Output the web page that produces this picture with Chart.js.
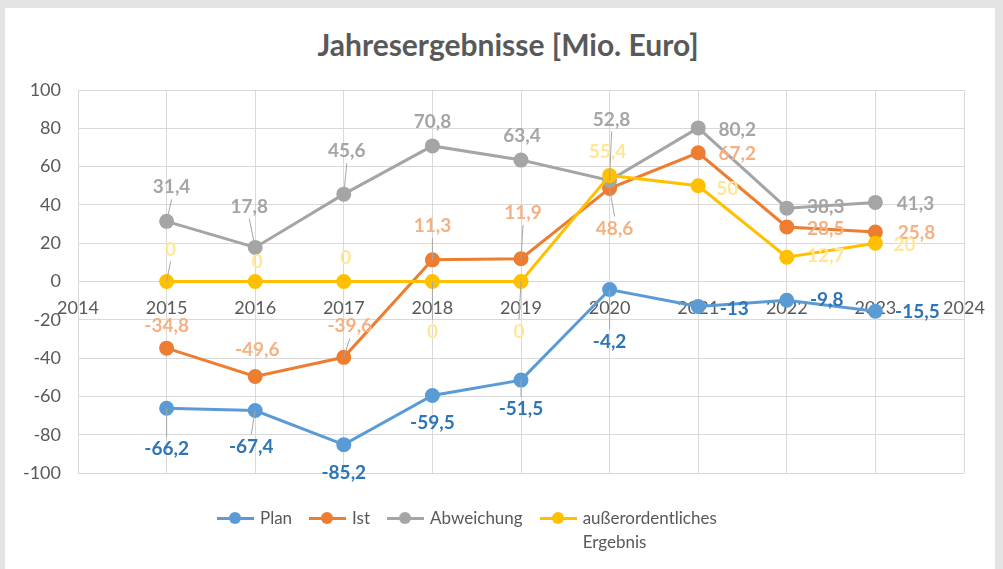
<!DOCTYPE html>
<html>
<head>
<meta charset="utf-8">
<script src="https://cdn.jsdelivr.net/npm/chart.js@4"></script>
<style>
  body { margin: 0; background: #e4e4e4; }
  #card { position: absolute; left: 5px; top: 8px; width: 990px; height: 561px; background: #fff; }
  #wrap { position: absolute; left: 0; top: 0; width: 1003px; height: 569px; }
  #title { position: absolute; left: 0; width: 1016px; top: 26px; text-align: center;
           font-family: Lato, sans-serif; font-weight: bold; font-size: 30px; line-height: 36px; color: #595959; }
  #legend { position: absolute; left: 217px; top: 506px; display: flex; align-items: flex-start;
            font-family: Lato, sans-serif; font-size: 17px; color: #595959; line-height: 24px; }
  .item { display: flex; align-items: flex-start; margin-right: 17px; }
  .mark { position: relative; width: 37px; height: 24px; margin-right: 6px; }
  .mark .ln { position: absolute; left: 0; right: 0; top: 11px; height: 3px; }
  .mark .dot { position: absolute; left: 12px; top: 6px; width: 12px; height: 12px; border-radius: 50%; }
</style>
</head>
<body>
<div id="card"></div>
<div id="title">Jahresergebnisse [Mio. Euro]</div>
<div id="wrap"><canvas id="chart" width="1003" height="569"></canvas></div>
<div id="legend"></div>
<script>
// Jahresergebnisse in Mio. Euro
var years = [2015, 2016, 2017, 2018, 2019, 2020, 2021, 2022, 2023];
var plan = [-66.2, -67.4, -85.2, -59.5, -51.5, -4.2, -13, -9.8, -15.5];
var ist = [-34.8, -49.6, -39.6, 11.3, 11.9, 48.6, 67.2, 28.5, 25.8];
var abweichung = [31.4, 17.8, 45.6, 70.8, 63.4, 52.8, 80.2, 38.3, 41.3];
var ausserordentlich = [0, 0, 0, 0, 0, 55.4, 50, 12.7, 20];
var seriesNames = ['Plan', 'Ist', 'Abweichung', 'außerordentliches Ergebnis'];

var lineColors = ['#5b9bd5', '#ed7d31', '#a5a5a5', '#ffc000'];
var labelColors = ['#2e75b6', '#f4b183', '#a5a5a5', '#ffe699'];

// label offsets in px (dx, dy) relative to the point, like the Excel chart
var labelOffsets = [
    [[0, 41], [-4, 36], [0, 28], [0, 27], [0, 29], [0, 52], [36, 2], [40, 0], [42, 1]],
    [[0, -22], [2, -27], [6, -31], [0, -34], [2, -46], [5, 40], [39, 1], [39, 2], [41, 1]],
    [[5, -34], [-6, -41], [3, -43], [0, -24], [1, -24], [2, -61], [39, 2], [39, -1], [40, 1]],
    [[4, -32], [2, -20], [2, -24], [0, 50], [-2, 50], [-2, -24], [29, 3], [39, -1], [29, 2]]
];

function toPoints(values) {
    var pts = [];
    for (var i = 0; i < years.length; i++) {
        pts.push({ x: years[i], y: values[i] });
    }
    return pts;
}

function formatDe(v) {
    return String(v).replace('.', ',');
}

var valueLabels = {
    id: 'valueLabels',
    afterDatasetsDraw: function (chart) {
        var ctx = chart.ctx;
        ctx.save();
        ctx.font = 'bold 19px Lato';
        ctx.textAlign = 'center';
        ctx.textBaseline = 'middle';
        chart.data.datasets.forEach(function (ds, di) {
            var meta = chart.getDatasetMeta(di);
            meta.data.forEach(function (pt, i) {
                var off = labelOffsets[di][i];
                var lx = pt.x + off[0];
                var ly = pt.y + off[1];
                if (Math.abs(off[1]) > 28) {
                    var dir = off[1] > 0 ? 1 : -1;
                    ctx.strokeStyle = '#a6a6a6';
                    ctx.lineWidth = 1;
                    ctx.beginPath();
                    ctx.moveTo(pt.x, pt.y);
                    ctx.lineTo(lx, ly - dir * 12);
                    ctx.stroke();
                }
                ctx.fillStyle = labelColors[di];
                ctx.fillText(formatDe(ds.data[i].y), lx, ly);
            });
        });
        ctx.restore();
    }
};

var allSeries = [plan, ist, abweichung, ausserordentlich];
var datasets = allSeries.map(function (values, i) {
    return {
        label: seriesNames[i],
        data: toPoints(values),
        borderColor: lineColors[i],
        backgroundColor: lineColors[i],
        borderWidth: 3,
        pointRadius: 6,
        pointHoverRadius: 6,
        order: 4 - i
    };
});

new Chart(document.getElementById('chart'), {
    type: 'line',
    data: { datasets: datasets },
    plugins: [valueLabels],
    options: {
        responsive: false,
        animation: false,
        events: [],
        layout: { padding: { left: 0, right: 39, top: 90, bottom: 96 } },
        plugins: {
            legend: { display: false },
            tooltip: { enabled: false },
            title: { display: false }
        },
        scales: {
            x: {
                type: 'linear',
                position: { y: 0 },
                min: 2014,
                max: 2024,
                grid: { color: '#d9d9d9', drawTicks: false },
                border: { display: false },
                ticks: {
                    stepSize: 1,
                    padding: 16,
                    color: '#595959',
                    font: { family: 'Lato', size: 18 },
                    callback: function (v) { return String(v); }
                }
            },
            y: {
                min: -100,
                max: 100,
                grid: { color: '#d9d9d9', drawTicks: false },
                border: { color: '#d9d9d9' },
                afterFit: function (scale) { scale.width = 78; },
                ticks: {
                    stepSize: 20,
                    padding: 17,
                    color: '#595959',
                    font: { family: 'Lato', size: 18 }
                }
            }
        }
    }
});

// legend below the plot, last entry wraps like in the original
var legend = document.getElementById('legend');
seriesNames.forEach(function (name, i) {
    var item = document.createElement('div');
    item.className = 'item';
    var text = name === 'außerordentliches Ergebnis' ? 'außerordentliches<br>Ergebnis' : name;
    item.innerHTML = '<div class="mark"><div class="ln" style="background:' + lineColors[i] + '"></div>' +
        '<div class="dot" style="background:' + lineColors[i] + '"></div></div><div>' + text + '</div>';
    legend.appendChild(item);
});
</script>
</body>
</html>
